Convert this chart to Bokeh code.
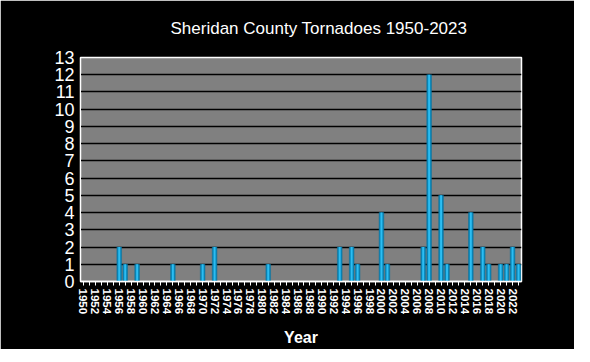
from bokeh.plotting import figure
from bokeh.embed import file_html
from bokeh.resources import INLINE
from bokeh.models import FixedTicker, Range1d, ColumnDataSource

years = list(range(1950, 2024))
counts = [0, 0, 0, 0, 0, 0, 2, 1, 0, 1,
          0, 0, 0, 0, 0, 1, 0, 0, 0, 0,
          1, 0, 2, 0, 0, 0, 0, 0, 0, 0,
          0, 1, 0, 0, 0, 0, 0, 0, 0, 0,
          0, 0, 0, 2, 0, 2, 1, 0, 0, 0,
          4, 1, 0, 0, 0, 0, 0, 2, 12, 0,
          5, 1, 0, 0, 0, 4, 0, 2, 1, 0,
          1, 1, 2, 1]
y_ticks = list(range(0, 14))
title_text = "Sheridan County Tornadoes 1950-2023"
x_title = "Year"

src = ColumnDataSource(dict(year=years, count=counts))

xr = Range1d(years[0] - 0.5, years[-1] + 0.5)
yr = Range1d(0, 13)
p = figure(width=574, height=349, output_backend="svg", toolbar_location=None,
           x_range=xr, y_range=yr,
           min_border_left=80, min_border_right=53, min_border_top=57, min_border_bottom=64)

p.background_fill_color = "#808080"
p.border_fill_color = "#000000"
p.outline_line_color = "#ffffff"
p.outline_line_width = 1.5

p.title.text = title_text
p.title.align = "left"
p.title.vertical_align = "top"
p.title.text_color = "#ffffff"
p.title.text_font = "Liberation Sans"
p.title.text_font_size = "17px"
p.title.text_font_style = "normal"
p.title.offset = 90
p.title.standoff = 36

p.vbar(x="year", top="count", width=0.78, bottom=0, source=src,
       fill_color="#0a86b8", line_color="#0a6f99", line_width=0.5)
p.vbar(x="year", top="count", width=0.32, bottom=0, source=src,
       fill_color="#2cbdf2", line_color=None)

p.xgrid.grid_line_color = None
p.ygrid.grid_line_color = "#000000"
p.ygrid.grid_line_width = 1.5
p.ygrid.ticker = FixedTicker(ticks=y_ticks)

p.yaxis.ticker = FixedTicker(ticks=y_ticks)
p.yaxis.axis_line_color = "#ffffff"
p.yaxis.major_tick_line_color = None
p.yaxis.major_tick_in = 0
p.yaxis.major_tick_out = 0
p.yaxis.minor_tick_line_color = None
p.yaxis.major_label_text_color = "#ffffff"
p.yaxis.major_label_text_font = "Liberation Sans"
p.yaxis.major_label_text_font_size = "18px"
p.yaxis.major_label_standoff = 6

p.xaxis.ticker = FixedTicker(ticks=years)
p.xaxis.major_label_overrides = {y: (str(y) if y % 2 == 0 else "") for y in years}
p.xaxis.major_label_orientation = "vertical"
p.xaxis.axis_line_color = "#ffffff"
p.xaxis.axis_line_width = 1.5
p.xaxis.major_tick_line_color = "#ffffff"
p.xaxis.major_tick_in = 0
p.xaxis.major_tick_out = 4
p.xaxis.minor_tick_line_color = None
p.xaxis.major_label_text_color = "#ffffff"
p.xaxis.major_label_text_font = "Liberation Sans"
p.xaxis.major_label_text_font_size = "11.5px"
p.xaxis.major_label_text_font_style = "bold"
p.xaxis.major_label_standoff = 3
p.xaxis.axis_label = x_title
p.xaxis.axis_label_text_color = "#ffffff"
p.xaxis.axis_label_text_font = "Liberation Sans"
p.xaxis.axis_label_text_font_size = "16px"
p.xaxis.axis_label_text_font_style = "bold"
p.xaxis.axis_label_standoff = 12

open("out.html", "w").write(file_html(p, INLINE))
